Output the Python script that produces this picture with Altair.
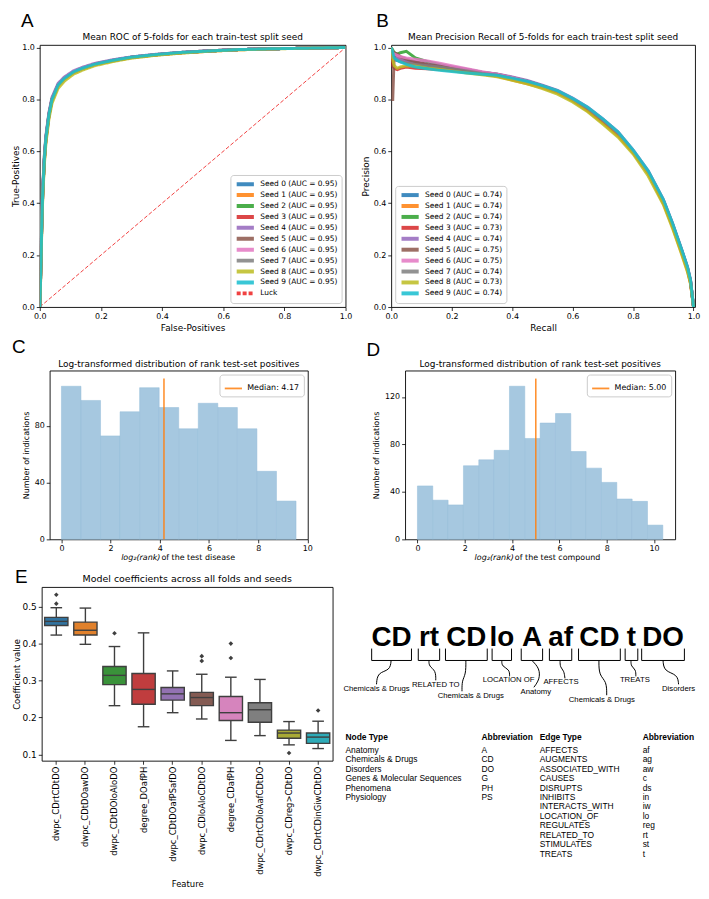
import altair as alt
import pandas as pd

FONT = "DejaVu Sans"
SANS = "Liberation Sans"

# ---------------- data ----------------
ROC_AUC = [0.95, 0.95, 0.95, 0.95, 0.95, 0.95, 0.95, 0.95, 0.95, 0.95]
PR_AUC = [0.74, 0.74, 0.74, 0.73, 0.74, 0.75, 0.75, 0.74, 0.73, 0.74]
SEED_COLORS = ["#1f77b4", "#ff7f0e", "#2ca02c", "#d62728", "#9467bd",
               "#8c564b", "#e377c2", "#7f7f7f", "#bcbd22", "#17becf"]

ROC_FPR = [0, 0.002, 0.004, 0.006, 0.008, 0.01, 0.015, 0.02, 0.03, 0.04, 0.06, 0.08, 0.11,
           0.14, 0.18, 0.24, 0.30, 0.38, 0.46, 0.56, 0.65, 0.75, 0.85, 0.95, 1.0]
ROC_TPR = [
    [0, 0.08, 0.18, 0.29, 0.38, 0.45, 0.57, 0.65, 0.74, 0.80, 0.856, 0.881, 0.906, 0.921, 0.936, 0.951, 0.963, 0.972, 0.980, 0.987, 0.992, 0.995, 0.997, 0.999, 1.0],
    [0, 0.07, 0.17, 0.28, 0.37, 0.44, 0.56, 0.64, 0.735, 0.795, 0.852, 0.878, 0.903, 0.918, 0.934, 0.949, 0.961, 0.971, 0.979, 0.986, 0.991, 0.995, 0.997, 0.999, 1.0],
    [0, 0.09, 0.19, 0.30, 0.39, 0.46, 0.58, 0.655, 0.745, 0.803, 0.857, 0.882, 0.906, 0.921, 0.936, 0.951, 0.963, 0.973, 0.981, 0.988, 0.992, 0.995, 0.997, 0.999, 1.0],
    [0, 0.08, 0.18, 0.29, 0.38, 0.45, 0.565, 0.645, 0.738, 0.798, 0.853, 0.879, 0.904, 0.919, 0.935, 0.950, 0.962, 0.972, 0.980, 0.987, 0.992, 0.995, 0.997, 0.999, 1.0],
    [0, 0.09, 0.20, 0.31, 0.40, 0.47, 0.585, 0.66, 0.75, 0.808, 0.862, 0.886, 0.91, 0.924, 0.939, 0.953, 0.964, 0.974, 0.981, 0.988, 0.992, 0.995, 0.997, 0.999, 1.0],
    [0, 0.08, 0.18, 0.29, 0.38, 0.45, 0.57, 0.65, 0.742, 0.80, 0.855, 0.88, 0.905, 0.92, 0.936, 0.95, 0.962, 0.972, 0.98, 0.987, 0.992, 0.995, 0.997, 0.999, 1.0],
    [0, 0.085, 0.19, 0.30, 0.39, 0.455, 0.575, 0.652, 0.744, 0.802, 0.857, 0.882, 0.907, 0.922, 0.937, 0.951, 0.963, 0.973, 0.981, 0.988, 0.992, 0.995, 0.997, 0.999, 1.0],
    [0, 0.075, 0.175, 0.285, 0.375, 0.445, 0.565, 0.645, 0.738, 0.798, 0.854, 0.879, 0.904, 0.919, 0.935, 0.95, 0.962, 0.972, 0.98, 0.987, 0.992, 0.995, 0.997, 0.999, 1.0],
    [0, 0.07, 0.16, 0.27, 0.36, 0.43, 0.55, 0.63, 0.725, 0.785, 0.843, 0.87, 0.897, 0.913, 0.93, 0.946, 0.959, 0.97, 0.978, 0.986, 0.991, 0.994, 0.997, 0.999, 1.0],
    [0, 0.08, 0.18, 0.29, 0.38, 0.45, 0.57, 0.65, 0.742, 0.80, 0.856, 0.881, 0.906, 0.921, 0.936, 0.951, 0.963, 0.973, 0.981, 0.987, 0.992, 0.995, 0.997, 0.999, 1.0],
]

PR_RECALL = [0.0, 0.005, 0.01, 0.02, 0.03, 0.05, 0.08, 0.12, 0.16, 0.20, 0.25, 0.30, 0.35, 0.40, 0.45,
             0.50, 0.55, 0.60, 0.65, 0.70, 0.75, 0.80, 0.85, 0.90, 0.93, 0.96, 0.98, 0.99, 1.0]
PR_PRECISION = [
    [1.0, 0.96, 0.955, 0.95, 0.95, 0.945, 0.94, 0.93, 0.925, 0.92, 0.912, 0.902, 0.895, 0.882, 0.868, 0.85, 0.83, 0.80, 0.765, 0.72, 0.668, 0.60, 0.52, 0.41, 0.32, 0.22, 0.15, 0.10, 0.0],
    [1.0, 0.985, 0.97, 0.96, 0.95, 0.94, 0.935, 0.928, 0.922, 0.915, 0.905, 0.898, 0.89, 0.875, 0.86, 0.845, 0.825, 0.795, 0.755, 0.71, 0.66, 0.595, 0.515, 0.40, 0.31, 0.21, 0.14, 0.09, 0.0],
    [1.0, 0.99, 0.98, 0.975, 0.98, 0.985, 0.96, 0.945, 0.935, 0.925, 0.915, 0.905, 0.897, 0.885, 0.87, 0.852, 0.832, 0.80, 0.765, 0.72, 0.67, 0.60, 0.52, 0.41, 0.32, 0.22, 0.15, 0.10, 0.0],
    [1.0, 0.93, 0.92, 0.915, 0.92, 0.925, 0.92, 0.918, 0.915, 0.912, 0.905, 0.898, 0.89, 0.878, 0.865, 0.848, 0.828, 0.797, 0.76, 0.715, 0.665, 0.597, 0.515, 0.405, 0.315, 0.215, 0.145, 0.095, 0.0],
    [1.0, 0.975, 0.965, 0.96, 0.955, 0.95, 0.945, 0.935, 0.93, 0.925, 0.915, 0.905, 0.898, 0.887, 0.873, 0.855, 0.835, 0.805, 0.77, 0.725, 0.675, 0.605, 0.525, 0.415, 0.325, 0.225, 0.155, 0.105, 0.0],
    [0.80, 0.80, 0.98, 0.975, 0.965, 0.955, 0.945, 0.935, 0.928, 0.922, 0.912, 0.903, 0.896, 0.884, 0.87, 0.852, 0.832, 0.80, 0.765, 0.72, 0.67, 0.60, 0.52, 0.41, 0.32, 0.22, 0.15, 0.10, 0.0],
    [1.0, 0.97, 0.975, 0.97, 0.965, 0.96, 0.955, 0.948, 0.94, 0.93, 0.918, 0.907, 0.897, 0.885, 0.87, 0.852, 0.832, 0.802, 0.767, 0.722, 0.672, 0.602, 0.522, 0.412, 0.322, 0.222, 0.152, 0.102, 0.0],
    [1.0, 0.96, 0.955, 0.95, 0.945, 0.94, 0.935, 0.93, 0.925, 0.918, 0.91, 0.9, 0.893, 0.88, 0.867, 0.85, 0.83, 0.80, 0.765, 0.72, 0.67, 0.60, 0.52, 0.41, 0.32, 0.22, 0.15, 0.10, 0.0],
    [1.0, 0.95, 0.93, 0.92, 0.925, 0.93, 0.928, 0.92, 0.915, 0.91, 0.902, 0.895, 0.887, 0.874, 0.86, 0.842, 0.82, 0.79, 0.752, 0.705, 0.655, 0.59, 0.505, 0.395, 0.305, 0.205, 0.135, 0.09, 0.0],
    [1.0, 0.98, 0.96, 0.95, 0.945, 0.935, 0.925, 0.918, 0.912, 0.908, 0.902, 0.897, 0.893, 0.882, 0.87, 0.853, 0.834, 0.804, 0.77, 0.725, 0.675, 0.605, 0.525, 0.415, 0.325, 0.225, 0.155, 0.105, 0.0],
]

C_EDGES = [0, 0.795, 1.59, 2.385, 3.18, 3.975, 4.77, 5.565, 6.36, 7.155, 7.95, 8.745, 9.54]
C_COUNTS = [108, 98, 73, 90, 107, 93, 78, 96, 93, 78, 48, 27]
C_MEDIAN = 4.17
C_MEDIAN_TOP = 113.4

D_EDGES = [0, 0.648, 1.296, 1.944, 2.592, 3.24, 3.888, 4.536, 5.184, 5.832, 6.48, 7.128,
           7.776, 8.424, 9.072, 9.72, 10.368]
D_COUNTS = [45, 33, 29, 62, 67, 75, 129, 85, 98, 106, 74, 60, 48, 34, 32, 12]
D_MEDIAN = 5.00
D_MEDIAN_TOP = 135.45

E_FEATURES = ["dwpc_CDrtCDtDO", "dwpc_CDtDOawDO", "dwpc_CDtDOloAloDO", "degree_DOafPH",
              "dwpc_CDtDOafPSafDO", "dwpc_CDloAloCDtDO", "degree_CDafPH",
              "dwpc_CDrtCDloAafCDtDO", "dwpc_CDreg>CDtDO", "dwpc_CDrtCDinGiwCDtDO"]
E_LOW = [0.423, 0.398, 0.232, 0.175, 0.213, 0.196, 0.138, 0.151, 0.126, 0.116]
E_Q1 = [0.449, 0.423, 0.289, 0.236, 0.247, 0.232, 0.192, 0.187, 0.144, 0.130]
E_MED = [0.460, 0.436, 0.314, 0.276, 0.264, 0.254, 0.213, 0.221, 0.158, 0.147]
E_Q3 = [0.471, 0.458, 0.338, 0.319, 0.281, 0.268, 0.257, 0.240, 0.166, 0.158]
E_HIGH = [0.497, 0.496, 0.392, 0.429, 0.326, 0.317, 0.309, 0.303, 0.189, 0.190]
E_OUT_FEATURE = ["dwpc_CDrtCDtDO", "dwpc_CDrtCDtDO", "dwpc_CDtDOloAloDO", "dwpc_CDloAloCDtDO",
                 "dwpc_CDloAloCDtDO", "degree_CDafPH", "degree_CDafPH", "dwpc_CDreg>CDtDO",
                 "dwpc_CDrtCDinGiwCDtDO"]
E_OUT_VALUE = [0.532, 0.508, 0.428, 0.366, 0.353, 0.400, 0.361, 0.104, 0.219]
E_COLORS = ["#3274a1", "#e1812c", "#3a923a", "#c03d3e", "#9372b2",
            "#845b53", "#d684bd", "#7f7f7f", "#a9aa35", "#2eabb8"]

TOKENS = ["CD", "rt", "CD", "lo", "A", "af", "CD", "t", "DO"]
TOKEN_LABELS = ["Chemicals & Drugs", "RELATED TO", "Chemicals & Drugs", "LOCATION OF", "Anatomy",
                "AFFECTS", "Chemicals & Drugs", "TREATS", "Disorders"]
NODE_TYPES = ["Anatomy", "Chemicals & Drugs", "Disorders", "Genes & Molecular Sequences",
              "Phenomena", "Physiology"]
NODE_ABBR = ["A", "CD", "DO", "G", "PH", "PS"]
EDGE_TYPES = ["AFFECTS", "AUGMENTS", "ASSOCIATED_WITH", "CAUSES", "DISRUPTS", "INHIBITS",
              "INTERACTS_WITH", "LOCATION_OF", "REGULATES", "RELATED_TO", "STIMULATES", "TREATS"]
EDGE_ABBR = ["af", "ag", "aw", "c", "ds", "in", "iw", "lo", "reg", "rt", "st", "t"]
TABLE_HEADERS = ["Node Type", "Abbreviation", "Edge Type", "Abbreviation"]

# ---------------- layout (diagram, in reference pixel coordinates) ----------------
TOKEN_LEFT = [373, 421, 449, 497, 527, 556, 586, 634, 651]
TOKEN_RIGHT = [414, 443, 492, 517, 549, 579, 629, 647, 695]
TOKEN_BASE = 647
BRACKET_TOP, BRACKET_BOTTOM = 650, 662
LABEL_X = [378, 439, 475, 514, 542, 568, 610, 644, 689]
LABEL_Y = [691, 687, 698, 682, 694, 684, 702, 682, 691]
CONNECT_X = [[393, 392, 379, 378], [432, 432, 439, 439], [470, 470, 466, 466], [507, 507, 515, 515],
             [538, 546, 546, 540], [567, 567, 571, 572], [607, 607, 615, 615], [640, 640, 645, 645],
             [673, 674, 688, 689]]
CONNECT_Y = [[662, 672, 674, 686], [662, 668, 672, 682], [662, 676, 682, 693], [662, 668, 671, 678],
             [662, 670, 681, 689], [662, 669, 672, 680], [662, 677, 683, 697], [662, 668, 671, 678],
             [662, 673, 676, 686]]
TABLE_COL_X = [346, 486, 546, 652]
TABLE_HEADER_Y = 739
TABLE_ROW_Y0 = 752
TABLE_ROW_STEP = 9.5


# ---------------- helpers ----------------
def curve_frame(xs, ys_list, aucs):
    rows = []
    for s, (ys, auc) in enumerate(zip(ys_list, aucs)):
        lab = f"Seed {s} (AUC = {auc:.2f})"
        for k, (x, y) in enumerate(zip(xs, ys)):
            rows.append({"series": lab, "x": x, "y": y, "k": k})
    return rows


def letter(ch, dx, dy):
    return alt.Chart(pd.DataFrame({"t": [ch]})).mark_text(
        font=SANS, fontSize=19, align="left", baseline="alphabetic", color="black"
    ).encode(text="t:N", x=alt.value(dx), y=alt.value(dy))


def head(text, w, size=9, dy=-5):
    return alt.Chart(pd.DataFrame({"t": [text]})).mark_text(
        font=FONT, fontSize=size, align="center", baseline="alphabetic", color="black"
    ).encode(text="t:N", x=alt.value(w / 2), y=alt.value(dy))


def spacer():
    return alt.Chart(pd.DataFrame({"a": [0]})).mark_rect(opacity=0).encode(
        x=alt.value(0), x2=alt.value(1), y=alt.value(0), y2=alt.value(1)
    ).properties(width=1, height=1, view=alt.ViewBackground(stroke="transparent"))


def seed_legend(orient):
    return alt.Legend(title=None, orient=orient, labelFont=FONT, labelFontSize=7.5,
                      symbolType="stroke", symbolSize=300, clipHeight=10.5,
                      fillColor="white", strokeColor="#cccccc", padding=4, cornerRadius=3,
                      offset=4, rowPadding=0, labelLimit=200, symbolStrokeWidth=4,
                      symbolOpacity=0.85)


def median_legend():
    return alt.Legend(title=None, orient="top-right", labelFont=FONT, labelFontSize=8,
                      symbolType="stroke", symbolSize=300, symbolStrokeWidth=1.8,
                      fillColor="white", strokeColor="#cccccc", padding=4, cornerRadius=3,
                      offset=4, labelLimit=200)


TICK01 = [0, 0.2, 0.4, 0.6, 0.8, 1.0]

# ---------------- A: ROC ----------------
roc_labels = [f"Seed {s} (AUC = {a:.2f})" for s, a in enumerate(ROC_AUC)] + ["Luck"]
roc_rows = [{"series": "Luck", "x": 0, "y": 0, "k": 0}, {"series": "Luck", "x": 1, "y": 1, "k": 1}]
roc_rows += curve_frame(ROC_FPR, ROC_TPR, ROC_AUC)
df_roc = pd.DataFrame(roc_rows)

WA, HA = 308, 264
roc_lines = alt.Chart(df_roc).mark_line(opacity=0.85, clip=True).encode(
    x=alt.X("x:Q", scale=alt.Scale(domain=[0, 1], nice=False),
            axis=alt.Axis(values=TICK01, format=".1f", title="False-Positives", labelFlush=False)),
    y=alt.Y("y:Q", scale=alt.Scale(domain=[0, 1.01], nice=False),
            axis=alt.Axis(values=TICK01, format=".1f", title="True-Positives", titlePadding=1)),
    color=alt.Color("series:N", scale=alt.Scale(domain=roc_labels, range=SEED_COLORS + ["#ee2020"]),
                    legend=seed_legend("bottom-right")),
    strokeDash=alt.StrokeDash("series:N",
                              scale=alt.Scale(domain=roc_labels, range=[[1, 0]] * 10 + [[4, 2]]),
                              legend=seed_legend("bottom-right")),
    strokeWidth=alt.when(alt.datum.series == "Luck").then(alt.value(1.0)).otherwise(alt.value(3.0)),
    order="k:Q",
)
panel_a = alt.layer(
    roc_lines, letter("A", -19, -18),
    head("Mean ROC of 5-folds for each train-test split seed", WA)
).properties(width=WA, height=HA)

# ---------------- B: PR ----------------
pr_labels = [f"Seed {s} (AUC = {a:.2f})" for s, a in enumerate(PR_AUC)]
df_pr = pd.DataFrame(curve_frame(PR_RECALL, PR_PRECISION, PR_AUC))
WB = 306
pr_lines = alt.Chart(df_pr).mark_line(opacity=0.85, strokeWidth=3, clip=True).encode(
    x=alt.X("x:Q", scale=alt.Scale(domain=[0, 1.005], nice=False),
            axis=alt.Axis(values=TICK01, format=".1f", title="Recall", labelFlush=False)),
    y=alt.Y("y:Q", scale=alt.Scale(domain=[0, 1.01], nice=False),
            axis=alt.Axis(values=TICK01, format=".1f", title="Precision")),
    color=alt.Color("series:N", scale=alt.Scale(domain=pr_labels, range=SEED_COLORS),
                    legend=seed_legend("bottom-left")),
    order="k:Q",
)
panel_b = alt.layer(
    pr_lines, letter("B", -15, -18),
    head("Mean Precision Recall of 5-folds for each train-test split seed", WB)
).properties(width=WB, height=HA)


# ---------------- C / D: histograms ----------------
def histogram(edges, counts, median, median_top, xdom, ytop, yticks, w, h, ch, lx, ly, tail):
    df = pd.DataFrame({"x0": edges[:-1], "x1": edges[1:], "n": counts, "z": [0] * len(counts)})
    bars = alt.Chart(df).mark_bar(fill="#a6c8e0", stroke="#93bcd9", strokeWidth=0.5).encode(
        x=alt.X("x0:Q", scale=alt.Scale(domain=xdom, nice=False, zero=False),
                axis=alt.Axis(values=[0, 2, 4, 6, 8, 10], title=None, labelFlush=False)),
        x2="x1:Q",
        y=alt.Y("n:Q", scale=alt.Scale(domain=[0, ytop], nice=False),
                axis=alt.Axis(values=yticks, title="Number of indications", titleFontSize=8,
                              titlePadding=4)),
        y2="z:Q",
    )
    lab = f"Median: {median:.2f}"
    dm = pd.DataFrame({"lab": [lab], "m": [median], "y0": [0], "y1": [median_top]})
    med = alt.Chart(dm).mark_rule(strokeWidth=1.6, opacity=0.85).encode(
        x="m:Q", y="y0:Q", y2="y1:Q",
        color=alt.Color("lab:N", scale=alt.Scale(domain=[lab], range=["#ff7f0e"]),
                        legend=median_legend()),
    )
    split = w / 2 - 18.5 if tail == "disease" else w / 2 - 26.5
    t1 = alt.Chart(pd.DataFrame({"t": ["log\u2082(rank)"]})).mark_text(
        font=FONT, fontSize=8, fontStyle="italic", align="right", baseline="middle", color="black"
    ).encode(text="t:N", x=alt.value(split), y=alt.value(h + 19))
    t2 = alt.Chart(pd.DataFrame({"t": [f"\u00a0of the test {tail}"]})).mark_text(
        font=FONT, fontSize=8, align="left", baseline="middle", color="black"
    ).encode(text="t:N", x=alt.value(split + 1), y=alt.value(h + 19))
    return alt.layer(
        bars, med, t1, t2, letter(ch, lx, ly),
        head("Log-transformed distribution of rank test-set positives", w, 9, -4)
    ).properties(width=w, height=h)


panel_c = histogram(C_EDGES, C_COUNTS, C_MEDIAN, C_MEDIAN_TOP, [-0.477, 10.02], 119.07,
                    [0, 20, 40, 60, 80, 100], 260, 170, "C", -38, -18, "disease")
panel_d = histogram(D_EDGES, D_COUNTS, D_MEDIAN, D_MEDIAN_TOP, [-0.52, 10.89], 142.2,
                    [0, 20, 40, 60, 80, 100, 120, 140], 272, 170, "D", -39, -15, "compound")

# ---------------- E: boxplots ----------------
dfE = pd.DataFrame({"feature": E_FEATURES, "low": E_LOW, "q1": E_Q1, "med": E_MED,
                    "q3": E_Q3, "high": E_HIGH})
dfO = pd.DataFrame({"feature": E_OUT_FEATURE, "v": E_OUT_VALUE})
WE, HE = 293, 175
xE = alt.X("feature:N", scale=alt.Scale(domain=E_FEATURES, paddingInner=0, paddingOuter=0),
           axis=alt.Axis(title="Feature", labelAngle=270, labelFontSize=8.5, titleFontSize=8.5,
                         labelLimit=200, titlePadding=3))
ysc = alt.Scale(domain=[0.083, 0.553], nice=False, zero=False)
yE = alt.Y("low:Q", scale=ysc, axis=alt.Axis(values=[0.1, 0.2, 0.3, 0.4, 0.5], format=".1f",
                                             title="Coefficient value", labelFontSize=9,
                                             titleFontSize=8.5, titlePadding=1))
GRAY = "#3f3f3f"
whisk = alt.Chart(dfE).mark_rule(color=GRAY, strokeWidth=1.4).encode(x=xE, y=yE, y2="high:Q")
box = alt.Chart(dfE).mark_bar(width=alt.RelativeBandSize(0.8), stroke=GRAY, strokeWidth=1.4).encode(
    x=xE, y=alt.Y("q1:Q", scale=ysc), y2="q3:Q",
    color=alt.Color("feature:N", scale=alt.Scale(domain=E_FEATURES, range=E_COLORS), legend=None))
medE = alt.Chart(dfE).mark_tick(color=GRAY, thickness=1.4, size=23.4, opacity=1).encode(
    x=xE, y=alt.Y("med:Q", scale=ysc))
capL = alt.Chart(dfE).mark_tick(color=GRAY, thickness=1.4, size=11.7, opacity=1).encode(
    x=xE, y=alt.Y("low:Q", scale=ysc))
capH = alt.Chart(dfE).mark_tick(color=GRAY, thickness=1.4, size=11.7, opacity=1).encode(
    x=xE, y=alt.Y("high:Q", scale=ysc))
outl = alt.Chart(dfO).mark_point(shape="diamond", filled=True, color=GRAY, size=22, opacity=1).encode(
    x=xE, y=alt.Y("v:Q", scale=ysc))
e_core = alt.layer(
    whisk, box, medE, capL, capH, outl, letter("E", -27, -4),
    head("Model coefficients across all folds and seeds", WE, 9.5, -5)
)

# ---------------- diagram + table (placed to the right of panel E) ----------------
dxs = alt.Scale(domain=[340, 708], range=[300, 660], nice=False, zero=False)
dys = alt.Scale(domain=[588, 888], range=[0, 300], nice=False, zero=False)

tok_df = pd.DataFrame({"t": TOKENS, "x": [(l + r) / 2 for l, r in zip(TOKEN_LEFT, TOKEN_RIGHT)],
                       "y": [TOKEN_BASE] * len(TOKENS)})
br_rows = []
for i, (l, r) in enumerate(zip(TOKEN_LEFT, TOKEN_RIGHT)):
    for k, (x, y) in enumerate([(l, BRACKET_TOP), (l, BRACKET_BOTTOM), (r, BRACKET_BOTTOM), (r, BRACKET_TOP)]):
        br_rows.append({"id": i, "k": k, "x": x, "y": y})
con_rows = []
for i, (xs, ys) in enumerate(zip(CONNECT_X, CONNECT_Y)):
    for k, (x, y) in enumerate(zip(xs, ys)):
        con_rows.append({"id": i, "k": k, "x": x, "y": y})
lab_df = pd.DataFrame({"t": TOKEN_LABELS, "x": LABEL_X, "y": LABEL_Y})

head_df = pd.DataFrame({"t": TABLE_HEADERS, "x": TABLE_COL_X, "y": [TABLE_HEADER_Y] * 4})
cell_rows = []
for i, (n, a) in enumerate(zip(NODE_TYPES, NODE_ABBR)):
    yy = TABLE_ROW_Y0 + i * TABLE_ROW_STEP
    cell_rows += [{"t": n, "x": TABLE_COL_X[0], "y": yy}, {"t": a, "x": TABLE_COL_X[1], "y": yy}]
for i, (e, a) in enumerate(zip(EDGE_TYPES, EDGE_ABBR)):
    yy = TABLE_ROW_Y0 + i * TABLE_ROW_STEP
    cell_rows += [{"t": e, "x": TABLE_COL_X[2], "y": yy}, {"t": a, "x": TABLE_COL_X[3], "y": yy}]
cell_df = pd.DataFrame(cell_rows)

xD = alt.X("x:Q", scale=dxs, axis=None)
yD = alt.Y("y:Q", scale=dys, axis=None)
brackets = alt.Chart(pd.DataFrame(br_rows)).mark_line(color="black", strokeWidth=1).encode(
    x=xD, y=yD, detail="id:N", order="k:Q")
connectors = alt.Chart(pd.DataFrame(con_rows)).mark_line(color="black", strokeWidth=1, interpolate="basis").encode(
    x=xD, y=yD, detail="id:N", order="k:Q")
tok_text = alt.Chart(tok_df).mark_text(font=SANS, fontSize=28, fontWeight="bold", align="center",
                                       baseline="alphabetic", color="black").encode(x=xD, y=yD, text="t:N")
lab_text = alt.Chart(lab_df).mark_text(font=SANS, fontSize=7.8, align="center", baseline="middle",
                                       color="black").encode(x=xD, y=yD, text="t:N")
head_text = alt.Chart(head_df).mark_text(font=SANS, fontSize=8.5, fontWeight="bold", align="left",
                                         baseline="middle", color="black").encode(x=xD, y=yD, text="t:N")
cell_text = alt.Chart(cell_df).mark_text(font=SANS, fontSize=8.5, align="left", baseline="middle",
                                         color="black").encode(x=xD, y=yD, text="t:N")
diagram = alt.layer(brackets, connectors, tok_text, lab_text, head_text, cell_text)

panel_e = alt.layer(e_core, diagram).resolve_scale(x="independent", y="independent").properties(
    width=WE, height=HE)

IND = dict(x="independent", y="independent", color="independent", strokeDash="independent")
pair1 = alt.concat(panel_a, panel_b, columns=2, spacing=8, align="none").resolve_scale(**IND)
pair2 = alt.concat(panel_c, panel_d, columns=2, spacing=52, align="none").resolve_scale(**IND)
row1 = alt.concat(spacer(), pair1, columns=2, spacing=0, align="none").resolve_scale(**IND)
row2 = alt.concat(spacer(), pair2, columns=2, spacing=0, align="none").resolve_scale(**IND)
row3 = alt.concat(spacer(), panel_e, columns=2, spacing=0, align="none").resolve_scale(**IND)

chart = alt.concat(row1, row2, row3, columns=1, spacing=4, align="none").resolve_scale(**IND).properties(
    padding=0
).configure_view(stroke="black", strokeWidth=0.9).configure_axis(
    domain=False, grid=False, tickColor="black", tickSize=3.5, tickWidth=0.8,
    labelFont=FONT, labelFontSize=8, labelColor="black", labelPadding=2,
    titleFont=FONT, titleFontSize=9, titleFontWeight="normal", titleColor="black", titlePadding=3,
).configure_text(font=FONT)

chart.save("out.html", embed_options={"renderer": "svg", "actions": False})
